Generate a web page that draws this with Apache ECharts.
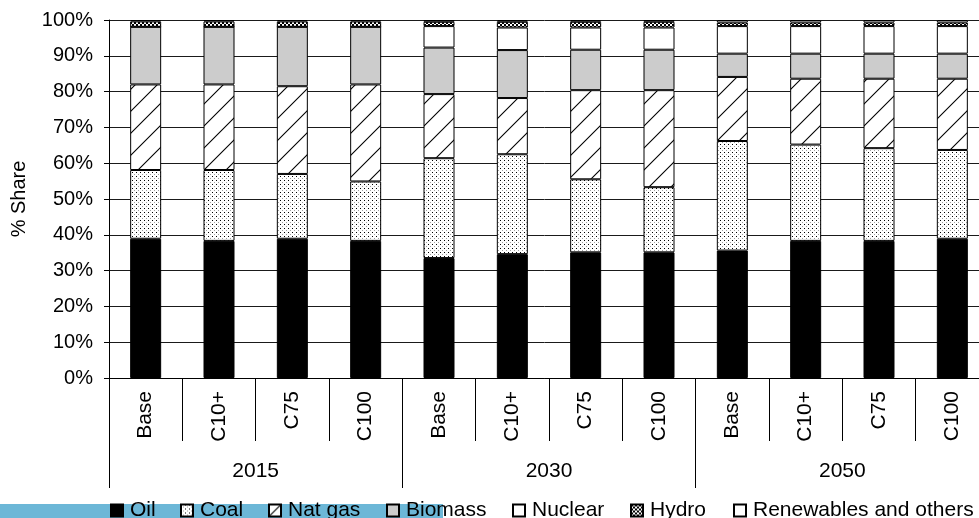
<!DOCTYPE html>
<html>
<head>
<meta charset="utf-8">
<script src="https://cdn.jsdelivr.net/npm/echarts@6/dist/echarts.min.js"></script>
<style>
  html, body { margin: 0; padding: 0; background: #fff; }
  #chart { width: 979px; height: 518px; }
</style>
</head>
<body>
<div id="chart"></div>
<script>
// Scenario categories (inner axis) and year groups (outer axis)
const scenarios = ['Base', 'C10+', 'C75', 'C100', 'Base', 'C10+', 'C75', 'C100', 'Base', 'C10+', 'C75', 'C100'];
const years = ['2015', '2030', '2050'];
const yTicks = [0, 10, 20, 30, 40, 50, 60, 70, 80, 90, 100];
const fuels = ['Oil', 'Coal', 'Nat gas', 'Biomass', 'Nuclear', 'Hydro', 'Renewables and others'];

// Fuel shares, % of total
const oil      = [38.9, 38.3, 38.9, 38.3, 33.5, 34.6, 35.1, 35.1, 35.6, 38.3, 38.3, 38.9];
const coal     = [19.2, 19.8, 18.1, 16.6, 27.9, 27.9, 20.4, 18.2, 30.6, 26.9, 25.9, 24.8];
const natGas   = [23.9, 23.9, 24.5, 27.1, 17.9, 15.7, 24.9, 27.1, 17.9, 18.4, 19.4, 19.9];
const biomass  = [16.1, 16.1, 16.6, 16.1, 13.0, 13.4, 11.3, 11.3, 6.5, 7.0, 7.0, 7.0];
const nuclear  = [0, 0, 0, 0, 6.0, 6.3, 6.2, 6.2, 7.7, 7.7, 7.7, 7.7];
const hydro    = [1.5, 1.5, 1.5, 1.5, 1.2, 1.6, 1.6, 1.6, 1.0, 1.0, 1.0, 1.0];
const renew    = [0.4, 0.4, 0.4, 0.4, 0.5, 0.5, 0.5, 0.5, 0.7, 0.7, 0.7, 0.7];

const FONT = "'Liberation Sans', Arial, sans-serif";

// Fill patterns drawn on small canvas tiles
function tile(w, h, draw) {
  const c = document.createElement('canvas');
  c.width = w; c.height = h;
  const ctx = c.getContext('2d');
  ctx.fillStyle = '#fff';
  ctx.fillRect(0, 0, w, h);
  draw(ctx);
  return { image: c, repeat: 'repeat' };
}

function hatchTile(size) {
  return tile(size, size, ctx => {
    ctx.strokeStyle = '#000';
    ctx.lineWidth = 1.1;
    ctx.beginPath();
    ctx.moveTo(0, size); ctx.lineTo(size, 0);
    ctx.moveTo(-2, 2); ctx.lineTo(2, -2);
    ctx.moveTo(size - 2, size + 2); ctx.lineTo(size + 2, size - 2);
    ctx.stroke();
  });
}

const dotFill = tile(4, 4, ctx => {
  ctx.fillStyle = '#000';
  ctx.fillRect(0, 0, 1, 1);
  ctx.fillStyle = '#a0a0a0';
  ctx.fillRect(2, 2, 1, 1);
});

const hatchFill = hatchTile(22);
const hatchIcon = hatchTile(12);

const checkFill = tile(4, 4, ctx => {
  ctx.fillStyle = '#000';
  ctx.fillRect(0, 0, 2, 2);
  ctx.fillRect(2, 2, 2, 2);
});

function barSeries(name, data, fill) {
  return {
    name: name,
    type: 'bar',
    stack: 'share',
    data: data,
    barWidth: 31,
    itemStyle: { color: fill, borderColor: '#000', borderWidth: 1 },
    emphasis: { disabled: true }
  };
}

// One legend entry per fuel, laid out left to right
const legendLeft = [110, 180, 268, 386, 512, 630, 733];
const legends = fuels.map((f, i) => ({
  data: [f === 'Nat gas' ? { name: f, itemStyle: { color: hatchIcon } } : f],
  left: legendLeft[i],
  top: 500,
  padding: 0,
  icon: 'rect',
  itemWidth: 12,
  itemHeight: 12,
  selectedMode: false,
  textStyle: { fontFamily: FONT, fontSize: 21, color: '#000', padding: [0, 0, 0, 2] }
}));

const chart = echarts.init(document.getElementById('chart'), null, { renderer: 'canvas' });

chart.setOption({
  animation: false,
  backgroundColor: '#fff',
  textStyle: { fontFamily: FONT, color: '#000' },
  grid: { left: 109, width: 880, top: 20, bottom: 140, containLabel: false, outerBoundsMode: 'none' },
  legend: legends,
  graphic: [{
    type: 'rect',
    left: 0,
    bottom: 0,
    z: -1,
    shape: { width: 443, height: 14 },
    style: { fill: '#6cb7d7' }
  }],
  xAxis: [{
    type: 'category',
    data: scenarios,
    position: 'bottom',
    axisLine: { show: true, lineStyle: { color: '#000', width: 1 } },
    axisTick: { show: true, interval: 0, length: 63, lineStyle: { color: '#000' } },
    axisLabel: {
      interval: 0, rotate: 90, margin: 13,
      fontFamily: FONT, fontSize: 21, color: '#000'
    }
  }, {
    type: 'category',
    data: years,
    position: 'bottom',
    offset: 0,
    axisLine: { show: false },
    axisTick: { show: true, interval: 0, length: 110, lineStyle: { color: '#000' } },
    axisLabel: { interval: 0, margin: 83, fontFamily: FONT, fontSize: 21, color: '#000' }
  }],
  yAxis: {
    type: 'value',
    min: yTicks[0],
    max: yTicks[yTicks.length - 1],
    interval: 10,
    name: '% Share',
    nameLocation: 'middle',
    nameGap: 80,
    nameTextStyle: { fontFamily: FONT, fontSize: 20, color: '#000' },
    axisLine: { show: true, lineStyle: { color: '#000', width: 1 } },
    axisTick: { show: true, length: 5, lineStyle: { color: '#000' } },
    axisLabel: { formatter: '{value}%', margin: 16, fontFamily: FONT, fontSize: 20, color: '#000' },
    splitLine: { show: true, lineStyle: { color: '#1a1a1a', width: 1 } }
  },
  series: [
    barSeries(fuels[0], oil, '#000'),
    barSeries(fuels[1], coal, dotFill),
    barSeries(fuels[2], natGas, hatchFill),
    barSeries(fuels[3], biomass, '#cccccc'),
    barSeries(fuels[4], nuclear, '#fff'),
    barSeries(fuels[5], hydro, checkFill),
    barSeries(fuels[6], renew, '#fff')
  ]
});
</script>
</body>
</html>
